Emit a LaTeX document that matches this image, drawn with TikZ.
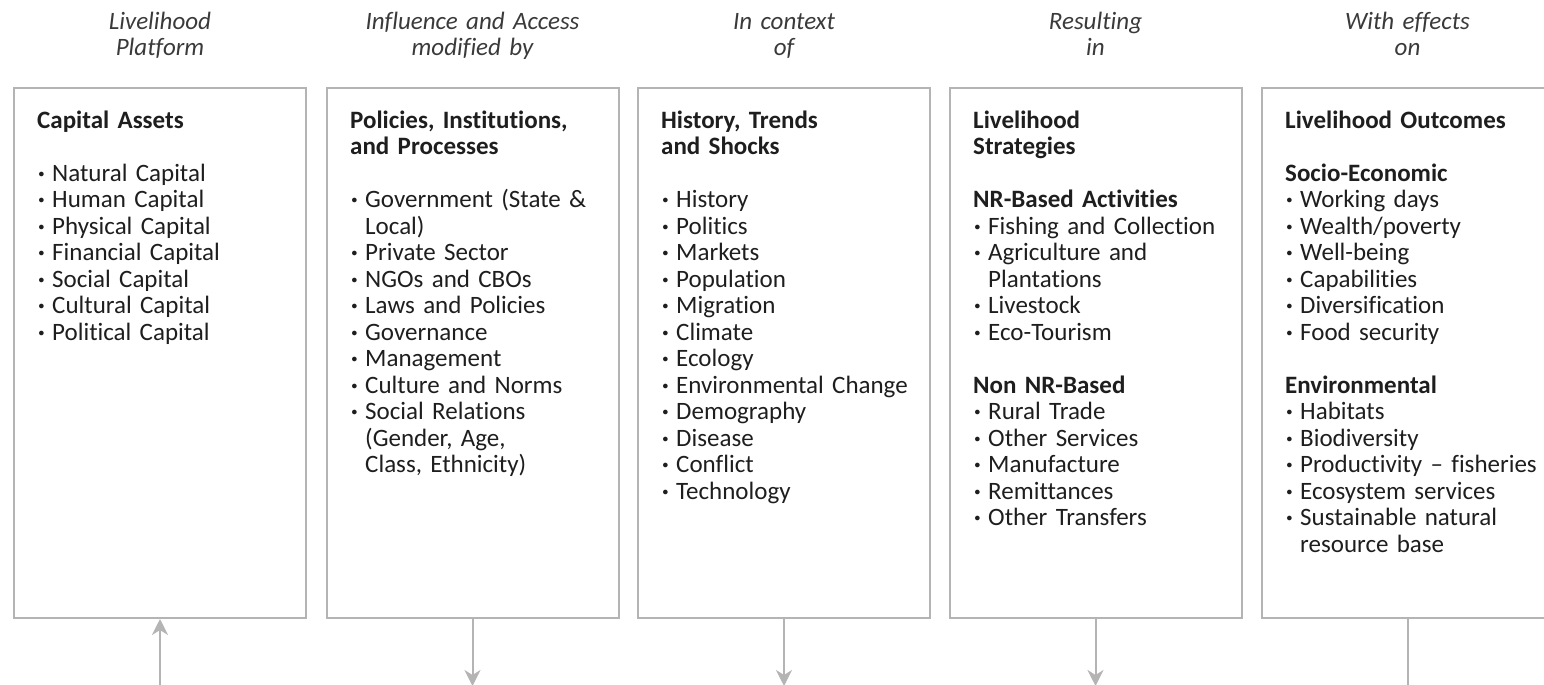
\documentclass[tikz,border=0pt]{standalone}
\usepackage{fontspec}
\setmainfont{Carlito}[Ligatures=NoCommon]
\usetikzlibrary{arrows.meta}
\definecolor{boxgray}{HTML}{B4B4B4}
\definecolor{txtcol}{HTML}{1E1E1E}
\definecolor{hdrcol}{HTML}{3A3A3A}
\newcommand\bitem[1]{\par\hangindent=15pt\hangafter=1\noindent\makebox[15pt][l]{\hspace{1pt}\textbf{·}}#1}
\newcommand\gapline{\par\vspace{\baselineskip}}
\newcommand\hd[1]{\par\noindent\textbf{#1}}
\tikzset{
  colbox/.style={draw=boxgray, line width=2pt, minimum width=292pt, minimum height=530pt, inner sep=0pt},
  coltext/.style={font=\fontsize{25pt}{26.5pt}\selectfont, text=txtcol, text width=290pt, align=left, inner sep=0pt, anchor=base west},
  hdr/.style={font=\fontsize{25pt}{25.5pt}\selectfont\itshape, text=hdrcol, text width=290pt, align=center, inner sep=0pt, anchor=base},
  conn/.style={draw=boxgray, line width=2pt},
  arr/.style={conn, -{Stealth[length=16pt,width=16pt,inset=5pt]}}
}
\begin{document}
\begin{tikzpicture}[x=1pt,y=-1pt]
\useasboundingbox (0,0) rectangle (1544,685);
% headers
\node[hdr] (h1) at (160,30) {Livelihood\\Platform};
\node[hdr] (h2) at (472.5,30) {Influence and Access\\modified by};
\node[hdr] (h3) at (784,30) {In context\\of};
\node[hdr] (h4) at (1095.5,30) {Resulting\\in};
\node[hdr] (h5) at (1407.5,30) {With effects\\on};
% boxes
\node[colbox] (b1) at (160,353) {};
\node[colbox] (b2) at (472.5,353) {};
\node[colbox] (b3) at (784,353) {};
\node[colbox] (b4) at (1095.5,353) {};
\node[colbox] (b5) at (1407.5,353) {};
% texts
\node[coltext] (t1) at (37,101.5) {\hd{Capital Assets}\gapline
\bitem{Natural Capital}
\bitem{Human Capital}
\bitem{Physical Capital}
\bitem{Financial Capital}
\bitem{Social Capital}
\bitem{Cultural Capital}
\bitem{Political Capital}\par};
\node[coltext] (t2) at (350,101.5) {\hd{Policies, Institutions,\\and Processes}\gapline
\bitem{Government (State \&\newline Local)}
\bitem{Private Sector}
\bitem{NGOs and CBOs}
\bitem{Laws and Policies}
\bitem{Governance}
\bitem{Management}
\bitem{Culture and Norms}
\bitem{Social Relations\newline (Gender, Age,\newline Class, Ethnicity)}\par};
\node[coltext] (t3) at (661,101.5) {\hd{History, Trends\\and Shocks}\gapline
\bitem{History}
\bitem{Politics}
\bitem{Markets}
\bitem{Population}
\bitem{Migration}
\bitem{Climate}
\bitem{Ecology}
\bitem{Environmental Change}
\bitem{Demography}
\bitem{Disease}
\bitem{Conflict}
\bitem{Technology}\par};
\node[coltext] (t4) at (973,101.5) {\hd{Livelihood\\Strategies}\gapline
\hd{NR-Based Activities}
\bitem{Fishing and Collection}
\bitem{Agriculture and\newline Plantations}
\bitem{Livestock}
\bitem{Eco-Tourism}\gapline
\hd{Non NR-Based}
\bitem{Rural Trade}
\bitem{Other Services}
\bitem{Manufacture}
\bitem{Remittances}
\bitem{Other Transfers}\par};
\node[coltext] (t5) at (1285,101.5) {\hd{Livelihood Outcomes}\gapline
\hd{Socio-Economic}
\bitem{Working days}
\bitem{Wealth/poverty}
\bitem{Well-being}
\bitem{Capabilities}
\bitem{Diversification}
\bitem{Food security}\gapline
\hd{Environmental}
\bitem{Habitats}
\bitem{Biodiversity}
\bitem{Productivity – fisheries}
\bitem{Ecosystem services}
\bitem{Sustainable natural\newline resource base}\par};
% connectors
\coordinate (e1) at (160,686);
\coordinate (e2) at (472.5,686);
\coordinate (e3) at (784,686);
\coordinate (e4) at (1095.5,686);
\coordinate (e5) at (1407.5,686);
\draw[arr] (e1) -- (b1.south);
\draw[arr] (b2.south) -- (e2);
\draw[arr] (b3.south) -- (e3);
\draw[arr] (b4.south) -- (e4);
\draw[conn] (b5.south) -- (e5);
\end{tikzpicture}
\end{document}
